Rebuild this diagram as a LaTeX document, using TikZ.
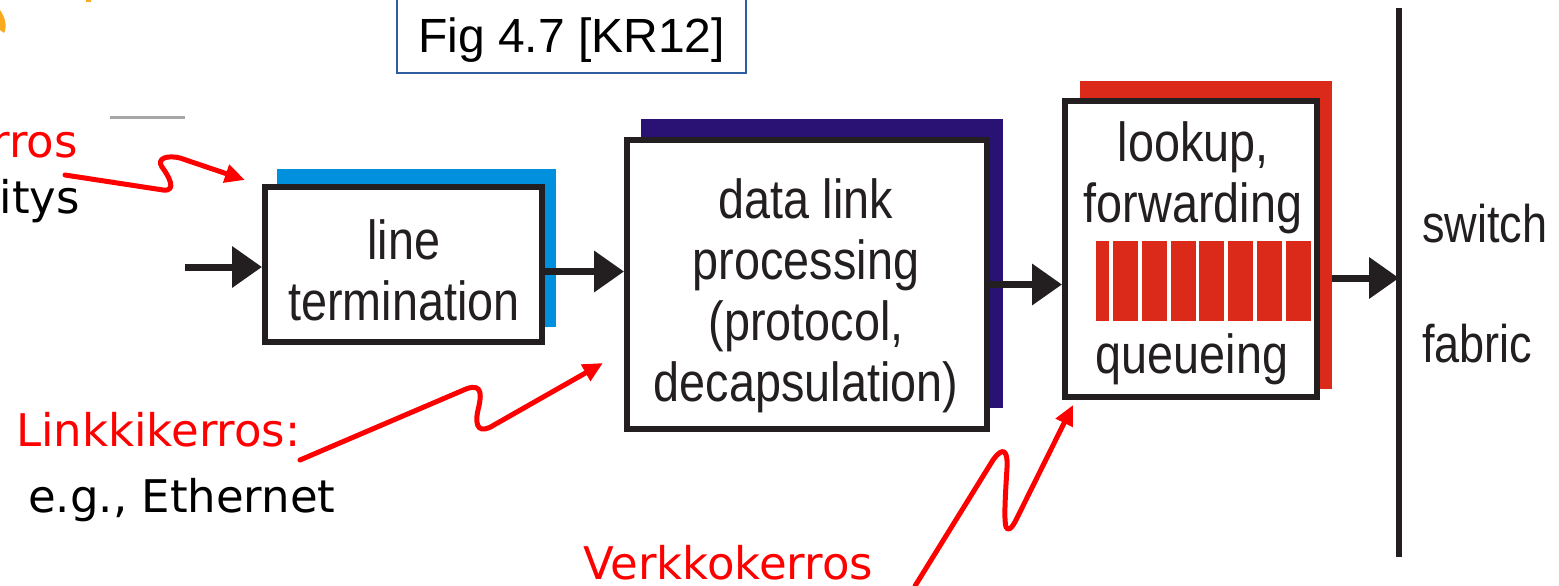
\documentclass[tikz,border=0pt]{standalone}
\usepackage{fontspec}
\usetikzlibrary{arrows.meta,calc}
\newfontfamily\boxfont[FakeStretch=0.85]{Liberation Sans}
\newfontfamily\figfont{Liberation Sans}
\newfontfamily\labfont{DejaVu Sans}
\definecolor{ltblue}{RGB}{0,144,222}
\definecolor{dlnavy}{RGB}{42,18,116}
\definecolor{qred}{RGB}{220,42,26}
\definecolor{figblue}{RGB}{46,94,160}
\definecolor{ink}{RGB}{35,31,32}
\definecolor{sunorange}{RGB}{250,170,30}

\begin{document}
\begin{tikzpicture}[x=1pt,y=-1pt,
    stage/.style={draw=ink,fill=white,line width=6pt,inner sep=0pt},
    stagetext/.style={align=center,text=ink,inner sep=0pt,font=\boxfont\fontsize{55}{61}\selectfont},
    fabrictext/.style={text=ink,inner sep=0pt,anchor=base west,font=\boxfont\fontsize{53}{58}\selectfont},
    flow/.style={draw=ink,line width=7pt,-{Triangle[length=30pt,width=40pt]}},
    hint/.style={draw=red,line width=5pt,line cap=round,line join=round,-{Triangle[length=20pt,width=18pt]}},
    redlabel/.style={text=red,inner sep=0pt,font=\labfont\fontsize{45}{50}\selectfont},
    blacklabel/.style={text=black,inner sep=0pt,font=\labfont\fontsize{45}{50}\selectfont}]
    \useasboundingbox (0,0) rectangle (1559,586);
    % Title box
    \node[draw=figblue,line width=2pt,minimum width=349pt,minimum height=80pt,
          text height=40pt,text depth=0pt,font=\figfont\fontsize{48}{52}\selectfont] (fig) at (571.5,33) {Fig 4.7 [KR12]};
    % Leftovers at the edge
    \draw[gray!70,line width=3pt] (110,117) -- (185,117);
    \fill[sunorange] (0,10) .. controls (6,18) and (7,28) .. (4,33) -- (0,30) -- cycle;
    \fill[sunorange] (86,0) rectangle (91,2);
    % Shadows
    \fill[ltblue] (277,169) rectangle (556,327);
    \fill[dlnavy] (641,119) rectangle (1003,408);
    \fill[qred] (1080,81) rectangle (1332,389);
    % Line termination
    \node[stage,minimum width=277pt,minimum height=155pt] (lt) at (403.5,264.5) {};
    \node[stagetext] (ltlabel) at (404,270) {line\\termination};
    % Data link processing
    \node[stage,minimum width=360pt,minimum height=289pt] (dl) at (807,284.5) {};
    \node[stagetext] (dllabel) at (806,296) {data link\\processing\\(protocol,\\decapsulation)};
    % Lookup, forwarding, queueing
    \node[stage,minimum width=252pt,minimum height=296pt] (lk) at (1191,249) {};
    \node[stagetext] (lklabel) at (1193,178) {lookup,\\forwarding};
    \node[stagetext] (qlabel) at (1192,359.5) {queueing};
    % Queue
    \fill[qred] (1096,241) rectangle (1109,321);
    \foreach \i in {0,...,6}
        \fill[qred] ({1113+28.8*\i},241) rectangle ++(25,80);
    % Switch fabric
    \coordinate (sftop) at (1399,8);
    \coordinate (sfbot) at (1399,557);
    \draw[ink,line width=6pt] (sftop) -- (sfbot);
    \node[fabrictext] (sw) at (1422,242) {switch};
    \node[fabrictext] (fab) at (1422,362) {fabric};
    % Flow arrows
    \coordinate (src) at (185,267);
    \draw[flow] (src) -- (src -| lt.west);
    \draw[flow] ([yshift=-7pt]lt.east) -- ([yshift=-7pt]lt.east -| dl.west);
    \draw[flow] (dl.east) -- (dl.east -| lk.west);
    \coordinate (lkout) at (1332,278);
    \draw[flow] (lkout) -- (lkout -| sftop);
    % Layer labels
    \node[redlabel,anchor=base east] (phy) at (78,157) {rros};
    \node[blacklabel,anchor=base east] (phyex) at (80,213) {itys};
    \node[redlabel,anchor=base west] (link) at (16,446) {Linkkikerros:};
    \node[blacklabel,anchor=base west] (linkex) at (28,512) {e.g., Ethernet};
    \node[redlabel,anchor=base west] (net) at (583,579) {Verkkokerros};
    % Red pointers
    \draw[hint] (65,175) -- (163,190) .. controls (178,192) and (168,175) .. (162,167)
        .. controls (156,158) and (168,155) .. (180,158) -- (245,180);
    \draw[hint] (300,460) -- (466,389) .. controls (484,382) and (481,398) .. (478,410)
        .. controls (474,428) and (480,434) .. (494,425) -- (603,363);
    \draw[hint] (915,586) -- (993,460) .. controls (1003,446) and (1008,450) .. (1007,468)
        .. controls (1005,500) and (1004,520) .. (1006,527)
        .. controls (1008,532) and (1012,528) .. (1016,520) -- (1073,405);
\end{tikzpicture}
\end{document}
